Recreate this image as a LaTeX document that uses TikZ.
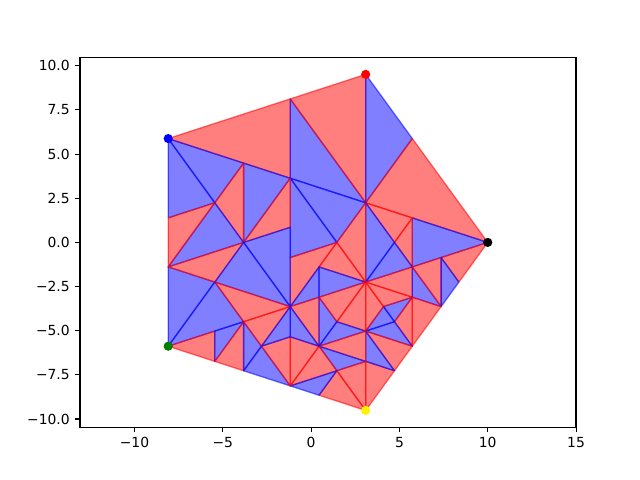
\documentclass[tikz,border=0pt]{standalone}
\usepackage{fontspec}
\setmainfont{DejaVu Sans}
\definecolor{mplgreen}{RGB}{0,128,0}
\begin{document}
\begin{tikzpicture}[x=0.35328cm, y=0.35328cm,
  tri/.style={fill=#1, fill opacity=0.5, draw=#1, draw opacity=0.55,
              line width=0.75pt, line join=round},
  spine/.style={line width=0.63pt},
  lbl/.style={font=\fontsize{7.9}{9}\selectfont, inner sep=0pt},
  dot/.style={fill=#1}
]
\useasboundingbox (-17.612,-13.451) rectangle (18.620,13.723);
% pentagon and subdivision points
\coordinate (P0) at (10,0);
\coordinate (P1) at (3.090,9.511);
\coordinate (P2) at (-8.090,5.878);
\coordinate (P3) at (-8.090,-5.878);
\coordinate (P4) at (3.090,-9.511);
\coordinate (R) at (3.090,2.245);
\coordinate (Q) at (-1.180,8.123);
\coordinate (S) at (-1.180,3.633);
\coordinate (M) at (5.729,5.878);
\coordinate (U) at (5.729,1.388);
\coordinate (Ua) at (5.729,-1.388);
\coordinate (W) at (3.090,-2.245);
\coordinate (H) at (-1.180,-3.633);
\coordinate (K) at (-3.820,0);
\coordinate (G1) at (-5.451,2.245);
\coordinate (G2) at (-5.451,-2.245);
\coordinate (V1) at (-3.820,4.490);
\coordinate (N) at (-8.090,1.388);
\coordinate (L) at (-8.090,-1.388);
\coordinate (X1) at (4.721,0);
\coordinate (Z1) at (5.729,-3.102);
\coordinate (Z2) at (4.098,-3.633);
\coordinate (Z3) at (4.721,-4.490);
\coordinate (Y1) at (7.361,-3.633);
\coordinate (Y2) at (5.729,-5.878);
\coordinate (Y3) at (4.721,-7.266);
\coordinate (Y4) at (8.369,-2.245);
\coordinate (Y5) at (7.361,-0.857);
\coordinate (W2) at (3.090,-5.020);
\coordinate (W3) at (3.090,-6.735);
\coordinate (O1) at (1.459,0);
\coordinate (T1) at (-1.180,-0.857);
\coordinate (T2) at (-1.180,0.857);
\coordinate (J2) at (0.451,-1.388);
\coordinate (E1) at (-3.820,-4.490);
\coordinate (E2) at (-5.451,-5.020);
\coordinate (B1) at (-5.451,-6.736);
\coordinate (B2) at (-3.820,-7.266);
\coordinate (B3) at (-1.180,-8.123);
\coordinate (B4) at (0.451,-8.653);
\coordinate (B5) at (-1.180,-5.347);
\coordinate (C1) at (-2.812,-5.878);
\coordinate (F1) at (0.451,-5.878);
\coordinate (F2) at (0.451,-3.103);
\coordinate (F3) at (1.459,-4.490);
\coordinate (F4) at (1.459,-7.266);
% triangles: colour/apex/corner/corner
\foreach \c/\a/\b/\d in {
  red/P2/Q/S, blue/Q/S/R, red/Q/P1/R, blue/P1/M/R, red/M/P0/R,
  blue/P0/U/Ua, red/R/X1/U, red/X1/Ua/U, blue/X1/R/W, blue/W/Ua/X1,
  red/W/Ua/Z1, blue/Z1/Ua/Y1, red/Y1/Y5/Ua, red/P0/Y5/Y4, blue/Y4/Y5/Y1,
  red/Y2/Z1/Y1, blue/Z1/Z3/Z2, red/Z3/Z1/Y2, red/Z2/Z1/W, blue/W2/Z3/Z2,
  blue/Z3/W2/Y2, red/Z2/W2/W, red/W2/Y3/Y2, red/P4/Y3/W3, blue/W3/Y3/W2,
  blue/S/O1/R, blue/S/O1/T1, red/T1/O1/H, red/O1/W/R,
  red/W/J2/O1, blue/W/J2/F2, blue/F2/J2/H,
  blue/K/V1/S, red/T2/K/S, blue/H/K/T2, blue/P2/V1/G1, red/G1/V1/K,
  red/F1/F2/H, blue/F3/F2/F1, red/W/F2/F3, red/W/W2/F3, blue/F3/W2/F1,
  red/F1/W3/W2, blue/F4/W3/F1, red/P4/W3/F4,
  blue/L/G1/K, blue/P2/G1/N, red/N/G1/L, blue/P3/L/G2, red/G2/L/K,
  blue/H/G2/K, blue/P3/G2/E1, red/E1/G2/H, red/P3/E2/B1, blue/E2/B1/E1,
  red/E1/B1/B2, blue/C1/B2/E1, blue/B3/B2/C1, red/H/C1/E1,
  red/B3/C1/B5, blue/B5/C1/H,
  red/B3/F4/F1, red/P4/F4/B4, blue/B4/F4/B3, red/B3/F1/B5, blue/B5/F1/H}
  \filldraw[tri=\c] (\a) -- (\b) -- (\d) -- cycle;
% corner dots
\fill[dot=black] (P0) circle[radius=0.26];
\fill[dot=red] (P1) circle[radius=0.26];
\fill[dot=blue] (P2) circle[radius=0.26];
\fill[dot=mplgreen] (P3) circle[radius=0.26];
\fill[dot=yellow] (P4) circle[radius=0.26];
% axes
\draw[spine] (-13.085,-10.462) rectangle (14.995,10.462);
\foreach \x/\t in {-10/−10, -5/−5, 0/0, 5/5, 10/10, 15/15}
  \draw[spine] (\x,-10.462) -- ++(0,-0.275)
    node[lbl, anchor=north, yshift=-2.75pt] {\t};
\foreach \y/\t in {-10/−10.0, -7.5/−7.5, -5/−5.0, -2.5/−2.5, 0/0.0,
                   2.5/2.5, 5/5.0, 7.5/7.5, 10/10.0}
  \draw[spine] (-13.085,\y) -- ++(-0.275,0)
    node[lbl, anchor=east, xshift=-2.75pt] {\t};
\end{tikzpicture}
\end{document}
